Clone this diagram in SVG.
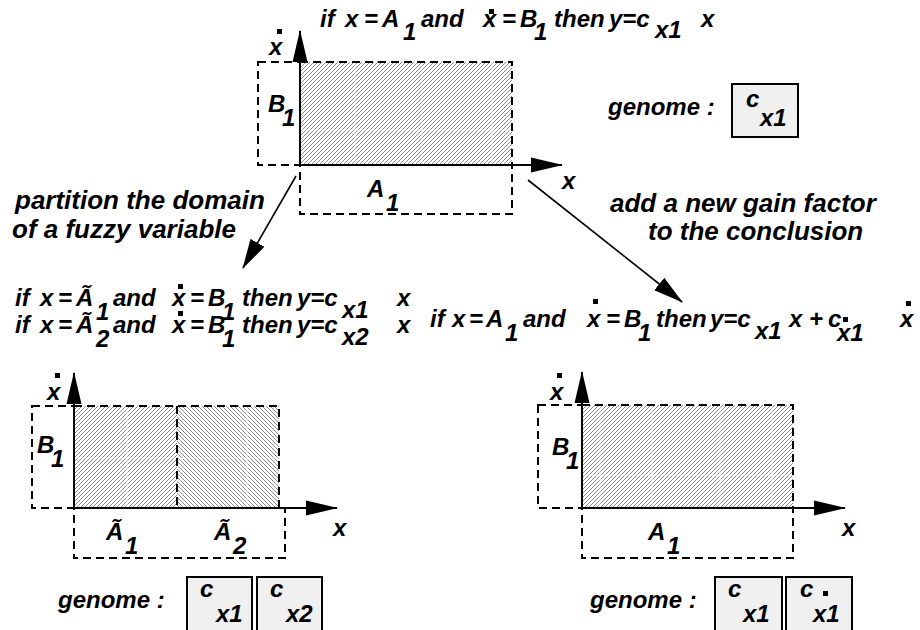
<svg xmlns="http://www.w3.org/2000/svg" width="920" height="630" viewBox="0 0 920 630">
<style>
  .t{font-family:"Liberation Sans",Arial,Helvetica,sans-serif;font-weight:bold;font-style:italic;font-size:24px;fill:#000}
  .lbl{font-size:26px}
  .dash{fill:none;stroke:#000;stroke-width:2;stroke-dasharray:8 5}
  .axis{fill:none;stroke:#000;stroke-width:2}
  .grid{stroke:#fff;stroke-width:1;opacity:0.85}
  .gbox{fill:#f0f0f0;stroke:#000;stroke-width:2}
  .conn{fill:none;stroke:#000;stroke-width:1.6}
  .dot{fill:#000}
</style>
<defs>
  <pattern id="hatchR" patternUnits="userSpaceOnUse" width="4" height="4">
    <rect width="4" height="4" fill="#fff"/>
    <path d="M-1,1 l2,-2 M0,4 l4,-4 M3,5 l2,-2" stroke="#8c8c8c" stroke-width="1"/>
  </pattern>
  <pattern id="hatchL" patternUnits="userSpaceOnUse" width="4" height="4">
    <rect width="4" height="4" fill="#fff"/>
    <path d="M-1,3 l2,2 M0,0 l4,4 M3,-1 l2,2" stroke="#8c8c8c" stroke-width="1"/>
  </pattern>
  <marker id="axisHead" markerUnits="userSpaceOnUse" viewBox="0 0 32 16" markerWidth="32" markerHeight="16" refX="31" refY="8" orient="auto">
    <path d="M0,0.5 L32,8 L0,15.5 z" fill="#000"/>
  </marker>
  <marker id="connHead" markerUnits="userSpaceOnUse" viewBox="0 0 30 18" markerWidth="30" markerHeight="18" refX="29" refY="9" orient="auto">
    <path d="M0,1 L30,9 L0,17 z" fill="#000"/>
  </marker>
</defs>

<!-- original rule: one premise pair, one gain -->
<g id="rule-top">
  <rect x="300" y="62" width="212" height="103" fill="url(#hatchR)"/>
  <path class="grid" d="M355,62 V165 M422,62 V165 M492,62 V165 M300,130 H512"/>
  <rect class="dash" x="258" y="62" width="42" height="103"/>
  <rect class="dash" x="300" y="62" width="212" height="103"/>
  <rect class="dash" x="300" y="165" width="212" height="49"/>
  <path class="axis" d="M300,166 V31" marker-end="url(#axisHead)"/>
  <path class="axis" d="M299,165 H562" marker-end="url(#axisHead)"/>
  <text class="t" x="269" y="55">x</text>
  <rect class="dot" x="277" y="29" width="5" height="5"/>
  <text class="t" x="562" y="189">x</text>
  <text class="t"><tspan x="268" y="112">B</tspan><tspan x="282" y="126">1</tspan></text>
  <text class="t"><tspan x="367" y="197">A</tspan><tspan x="386" y="211">1</tspan></text>
  <text class="t"><tspan x="320" y="27">if</tspan><tspan x="345">x</tspan><tspan x="364">=</tspan><tspan x="382">A</tspan><tspan x="403" y="40">1</tspan><tspan x="421" y="27">and</tspan><tspan x="483">x</tspan><tspan x="502">=</tspan><tspan x="520">B</tspan><tspan x="534" y="40">1</tspan><tspan x="554" y="27">then</tspan><tspan x="609">y=c</tspan><tspan x="655" y="38">x1</tspan><tspan x="701" y="27">x</tspan></text>
  <rect class="dot" x="489" y="9" width="5" height="5"/>
  <text class="t" x="608" y="115">genome :</text>
  <rect class="gbox" x="732" y="84" width="66" height="53"/>
  <text class="t"><tspan x="746" y="107">c</tspan><tspan x="760" y="126">x1</tspan></text>
</g>

<!-- refined rule: domain of x split in two -->
<g id="rule-split">
  <rect x="74" y="406" width="103" height="102" fill="url(#hatchR)"/>
  <rect x="177" y="406" width="102" height="102" fill="url(#hatchL)"/>
  <path class="grid" d="M127,406 V508 M247,406 V508 M74,458 H279"/>
  <rect class="dash" x="32" y="406" width="42" height="102"/>
  <rect class="dash" x="74" y="406" width="205" height="102"/>
  <path class="dash" d="M177,406 V508"/>
  <rect class="dash" x="74" y="508" width="211" height="50"/>
  <path class="axis" d="M74,509 V373" marker-end="url(#axisHead)"/>
  <path class="axis" d="M73,508 H337" marker-end="url(#axisHead)"/>
  <text class="t" x="47" y="400">x</text>
  <rect class="dot" x="55" y="373" width="5" height="5"/>
  <text class="t" x="333" y="536">x</text>
  <text class="t"><tspan x="37" y="453">B</tspan><tspan x="51" y="467">1</tspan></text>
  <text class="t"><tspan x="106" y="540">Ã</tspan><tspan x="125" y="554">1</tspan></text>
  <text class="t"><tspan x="214" y="540">Ã</tspan><tspan x="233" y="554">2</tspan></text>
  <text class="t"><tspan x="15" y="306">if</tspan><tspan x="40">x</tspan><tspan x="58">=</tspan><tspan x="76">Ã</tspan><tspan x="96" y="320">1</tspan><tspan x="113" y="306">and</tspan><tspan x="172">x</tspan><tspan x="190">=</tspan><tspan x="208">B</tspan><tspan x="222" y="320">1</tspan><tspan x="242" y="306">then</tspan><tspan x="297">y=c</tspan><tspan x="342" y="318">x1</tspan><tspan x="397" y="306">x</tspan></text>
  <rect class="dot" x="178" y="284" width="5" height="5"/>
  <text class="t"><tspan x="15" y="333">if</tspan><tspan x="40">x</tspan><tspan x="58">=</tspan><tspan x="76">Ã</tspan><tspan x="96" y="347">2</tspan><tspan x="113" y="333">and</tspan><tspan x="172">x</tspan><tspan x="190">=</tspan><tspan x="208">B</tspan><tspan x="222" y="347">1</tspan><tspan x="242" y="333">then</tspan><tspan x="297">y=c</tspan><tspan x="342" y="345">x2</tspan><tspan x="397" y="333">x</tspan></text>
  <rect class="dot" x="178" y="311" width="5" height="5"/>
  <text class="t" x="58" y="608">genome :</text>
  <rect class="gbox" x="187" y="577" width="65" height="60"/>
  <rect class="gbox" x="257" y="577" width="65" height="60"/>
  <text class="t"><tspan x="200" y="597">c</tspan><tspan x="216" y="622">x1</tspan></text>
  <text class="t"><tspan x="270" y="597">c</tspan><tspan x="286" y="622">x2</tspan></text>
</g>

<!-- refined rule: extra gain on the derivative -->
<g id="rule-gain">
  <rect x="582" y="405" width="211" height="103" fill="url(#hatchR)"/>
  <path class="grid" d="M600,405 V508 M652,405 V508 M720,405 V508 M772,405 V508 M582,475 H793"/>
  <rect class="dash" x="538" y="405" width="44" height="103"/>
  <rect class="dash" x="582" y="405" width="211" height="103"/>
  <rect class="dash" x="582" y="508" width="211" height="50"/>
  <path class="axis" d="M582,509 V372" marker-end="url(#axisHead)"/>
  <path class="axis" d="M581,508 H845" marker-end="url(#axisHead)"/>
  <text class="t" x="550" y="400">x</text>
  <rect class="dot" x="557" y="373" width="5" height="5"/>
  <text class="t" x="842" y="536">x</text>
  <text class="t"><tspan x="552" y="455">B</tspan><tspan x="566" y="469">1</tspan></text>
  <text class="t"><tspan x="648" y="540">A</tspan><tspan x="667" y="554">1</tspan></text>
  <text class="t"><tspan x="430" y="327">if</tspan><tspan x="452">x</tspan><tspan x="469">=</tspan><tspan x="486">A</tspan><tspan x="505" y="341">1</tspan><tspan x="523" y="327">and</tspan><tspan x="587">x</tspan><tspan x="606">=</tspan><tspan x="624">B</tspan><tspan x="638" y="341">1</tspan><tspan x="656" y="327">then</tspan><tspan x="710">y=c</tspan><tspan x="755" y="339">x1</tspan><tspan x="789" y="327">x</tspan><tspan x="809">+</tspan><tspan x="828">c</tspan><tspan x="837" y="341">x1</tspan><tspan x="900" y="327">x</tspan></text>
  <rect class="dot" x="593" y="299" width="5" height="5"/>
  <rect class="dot" x="843" y="317" width="5" height="5"/>
  <rect class="dot" x="906" y="301" width="5" height="5"/>
  <text class="t" x="590" y="608">genome :</text>
  <rect class="gbox" x="715" y="577" width="67" height="60"/>
  <rect class="gbox" x="786" y="577" width="66" height="60"/>
  <text class="t"><tspan x="728" y="597">c</tspan><tspan x="743" y="622">x1</tspan></text>
  <text class="t"><tspan x="800" y="597">c</tspan><tspan x="813" y="622">x1</tspan></text>
  <rect class="dot" x="823" y="591" width="5" height="5"/>
</g>

<!-- refinement steps -->
<g id="connectors">
  <path class="conn" d="M296,176 L243,268" marker-end="url(#connHead)"/>
  <path class="conn" d="M528,180 L682,302" marker-end="url(#connHead)"/>
  <text class="t lbl"><tspan x="15" y="209">partition the domain</tspan><tspan x="12" y="238">of a fuzzy variable</tspan></text>
  <text class="t lbl"><tspan x="610" y="212">add a new gain factor</tspan><tspan x="648" y="240">to the conclusion</tspan></text>
</g>
</svg>
